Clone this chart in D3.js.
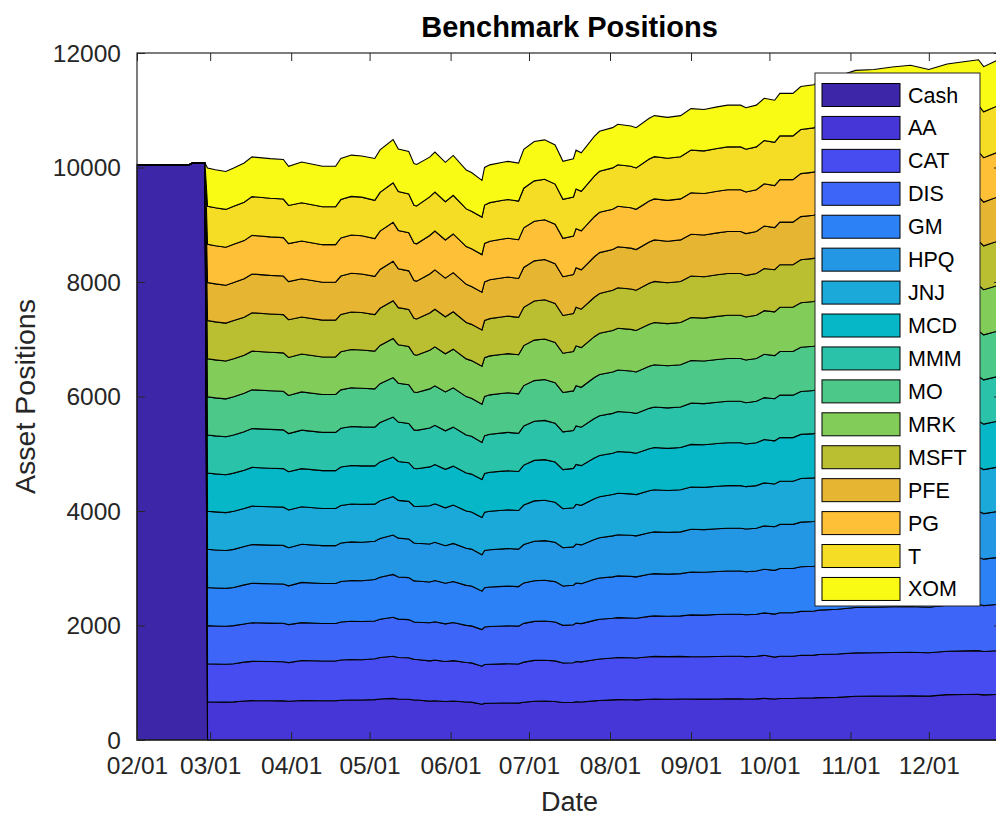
<!DOCTYPE html>
<html><head><meta charset="utf-8">
<script src="https://cdn.jsdelivr.net/npm/d3@7"></script>
<style>
body{margin:0;background:#fff}
svg{display:block}
text{font-family:"Liberation Sans",Arial,Helvetica,sans-serif}
</style>
</head><body>
<svg id="chart" width="996" height="817"></svg>
<script>
const seriesNames = ["Cash","AA","CAT","DIS","GM","HPQ","JNJ","MCD","MMM","MO","MRK","MSFT","PFE","PG","T","XOM"];
const seriesColors = ["#3E26A8","#4636D8","#464CF0","#3D66F9","#2C81F7","#2396E4","#1BA9DA","#06B7C8","#2AC2A9","#4CC988","#82CC5A","#BABF32","#E6B632","#FDC036","#F5DC25","#F9FB15"];

const cashDates = ["2006-02-01","2006-02-21","2006-02-22","2006-02-27"];
const cashValues = [10050,10050,10075,10075];

const stockDates = [
"2006-02-28","2006-03-03","2006-03-07","2006-03-10",
"2006-03-14","2006-03-17","2006-03-24","2006-03-29","2006-03-31",
"2006-04-05","2006-04-13","2006-04-18","2006-04-20","2006-04-24","2006-04-28",
"2006-05-03","2006-05-05","2006-05-10","2006-05-12","2006-05-16","2006-05-18","2006-05-19",
"2006-05-24","2006-05-26","2006-05-30","2006-06-02","2006-06-07","2006-06-09",
"2006-06-13","2006-06-14","2006-06-16","2006-06-21","2006-06-23","2006-06-27","2006-06-29",
"2006-07-03","2006-07-07","2006-07-11","2006-07-14","2006-07-18","2006-07-19","2006-07-21","2006-07-26","2006-07-28",
"2006-08-02","2006-08-04","2006-08-09","2006-08-11","2006-08-16","2006-08-18","2006-08-23","2006-08-28",
"2006-09-01","2006-09-06","2006-09-11","2006-09-15","2006-09-20","2006-09-22","2006-09-26","2006-09-29",
"2006-10-03","2006-10-05","2006-10-10","2006-10-13","2006-10-18","2006-10-20","2006-10-27",
"2006-11-03","2006-11-10","2006-11-17","2006-11-24","2006-12-01",
"2006-12-08","2006-12-15","2006-12-20","2006-12-22","2006-12-27","2006-12-29"];

const AA   = [666,664,662,666, 680,687,685,684,676, 691,686,686,695,699,698, 705,715,727,716,713,699,698, 679,685,673,681,664,661, 624,639,642,645,646,644,660, 677,679,673,654,657,667,664,683,689, 701,705,703,701,712,715,713,715, 715,714,717,719,719,716,719,727, 717,725,725,733,735,740,745, 765,766,769,771,766, 792,795,797,789,796,797];
const CAT  = [666,664,662,666, 680,687,685,684,676, 698,693,693,702,706,705, 715,725,737,726,723,709,708, 704,710,698,706,689,686, 664,679,682,685,686,684,700, 713,715,709,690,693,703,700,719,725, 731,735,733,731,742,745,743,745, 740,739,742,744,744,741,744,752, 730,738,738,746,748,753,758, 756,757,760,762,757, 759,762,764,756,763,764];
const DIS  = [666,664,662,666, 667,674,672,671,663, 661,656,656,665,669,668, 659,669,681,670,667,653,652, 664,670,658,666,649,646, 641,656,659,662,663,661,677, 682,684,678,659,662,672,669,688,694, 694,698,696,694,705,708,706,708, 730,729,732,734,734,731,734,742, 752,760,760,768,770,775,780, 794,795,798,800,795, 805,808,810,802,809,810];
const GM   = [666,664,662,666, 682,689,687,686,678, 703,698,698,707,711,710, 725,735,747,736,733,719,718, 714,720,708,716,699,696, 671,686,689,692,693,691,707, 711,713,707,688,691,701,698,717,723, 724,728,726,724,735,738,736,738, 750,749,752,754,754,751,754,762, 764,772,772,780,782,787,792, 803,804,807,809,804, 815,818,820,812,819,820];
const HPQ  = [666,664,662,666, 670,677,675,674,666, 667,662,662,671,675,674, 667,677,689,678,675,661,660, 663,669,657,665,648,645, 634,649,652,655,656,654,670, 690,692,686,667,670,680,677,696,702, 716,720,718,716,727,730,728,730, 745,744,747,749,749,746,749,757, 763,771,771,779,781,786,791, 796,797,800,802,797, 799,802,804,796,803,804];
const JNJ  = [666,664,662,666, 664,671,669,668,660, 653,648,648,657,661,660, 649,659,671,660,657,643,642, 667,673,661,669,652,649, 654,669,672,675,676,674,690, 704,706,700,681,684,694,691,710,716, 721,725,723,721,732,735,733,735, 739,738,741,743,743,740,743,751, 745,753,753,761,763,768,773, 772,773,776,778,773, 771,774,776,768,775,776];
const MCD  = [666,664,662,666, 670,677,675,674,666, 667,662,662,671,675,674, 668,678,690,679,676,662,661, 679,685,673,681,664,661, 662,677,680,683,684,682,698, 707,709,703,684,687,697,694,713,719, 723,727,725,723,734,737,735,737, 745,744,747,749,749,746,749,757, 755,763,763,771,773,778,783, 790,791,794,796,791, 797,800,802,794,801,802];
const MMM  = [666,664,662,666, 672,679,677,676,668, 673,668,668,677,681,680, 677,687,699,688,685,671,670, 679,685,673,681,664,661, 647,662,665,668,669,667,683, 683,685,679,660,663,673,670,689,695, 695,699,697,695,706,709,707,709, 720,719,722,724,724,721,724,732, 734,742,742,750,752,757,762, 770,771,774,776,771, 777,780,782,774,781,782];
const MO   = [666,664,662,666, 670,677,675,674,666, 667,662,662,671,675,674, 668,678,690,679,676,662,661, 684,690,678,686,669,666, 670,685,688,691,692,690,706, 711,713,707,688,691,701,698,717,723, 723,727,725,723,734,737,735,737, 745,744,747,749,749,746,749,757, 755,763,763,771,773,778,783, 786,787,790,792,787, 789,792,794,786,793,794];
const MRK  = [666,664,662,666, 667,674,672,671,663, 661,656,656,665,669,668, 659,669,681,670,667,653,652, 674,680,668,676,659,656, 662,677,680,683,684,682,698, 707,709,703,684,687,697,694,713,719, 725,729,727,725,736,739,737,739, 750,749,752,754,754,751,754,762, 764,772,772,780,782,787,792, 792,793,796,798,793, 791,794,796,788,795,796];
const MSFT = [666,664,662,666, 664,671,669,668,660, 648,643,643,652,656,655, 639,649,661,650,647,633,632, 651,657,645,653,636,633, 633,648,651,654,655,653,669, 683,685,679,660,663,673,670,689,695, 703,707,705,703,714,717,715,717, 725,724,727,729,729,726,729,737, 735,743,743,751,753,758,763, 766,767,770,772,767, 769,772,774,766,773,774];
const PFE  = [666,664,662,666, 670,677,675,674,666, 667,662,662,671,675,674, 668,678,690,679,676,662,661, 681,687,675,683,666,663, 660,675,678,681,682,680,696, 701,703,697,678,681,691,688,707,713, 711,715,713,711,722,725,723,725, 730,729,732,734,734,731,734,742, 736,744,744,752,754,759,764, 766,767,770,772,767, 769,772,774,766,773,774];
const PG   = [666,664,662,666, 667,674,672,671,663, 661,656,656,665,669,668, 659,669,681,670,667,653,652, 674,680,668,676,659,656, 657,672,675,678,679,677,693, 693,695,689,670,673,683,680,699,705, 703,707,705,703,714,717,715,717, 725,724,727,729,729,726,729,737, 735,743,743,751,753,758,763, 770,771,774,776,771, 777,780,782,774,781,782];
const T    = [666,664,662,666, 670,677,675,674,666, 667,662,662,671,675,674, 668,678,690,679,676,662,661, 674,680,668,676,659,656, 655,670,673,676,677,675,691, 704,706,700,681,684,694,691,710,716, 723,727,725,723,734,737,735,737, 745,744,747,749,749,746,749,757, 755,763,763,771,773,778,783, 794,795,798,800,795, 805,808,810,802,809,810];
const XOM  = [666,664,662,666, 687,694,692,691,683, 713,708,708,717,721,720, 732,742,754,743,740,726,725, 694,700,688,696,679,676, 642,657,660,663,664,662,678, 687,689,683,664,667,677,674,693,699, 703,707,705,703,714,717,715,717, 725,724,727,729,729,726,729,737, 735,743,743,751,753,758,763, 776,777,780,782,777, 792,795,797,789,796,797];

const xTickLabels = ["02/01","03/01","04/01","05/01","06/01","07/01","08/01","09/01","10/01","11/01","12/01"];
const yTickValues = [0,2000,4000,6000,8000,10000,12000];
const xStart = "2006-02-01", xEnd = "2006-12-29";

const stockSeries = {AA,CAT,DIS,GM,HPQ,JNJ,MCD,MMM,MO,MRK,MSFT,PFE,PG,T,XOM};
const stockNames = seriesNames.slice(1);
const parse = d3.utcParse("%Y-%m-%d");

// build table
const rows = [];
cashDates.forEach((d,i)=>{
  const r = {date: parse(d), Cash: cashValues[i]};
  stockNames.forEach(k => r[k] = 0);
  rows.push(r);
});
stockDates.forEach((d,i)=>{
  const r = {date: parse(d), Cash: 0};
  stockNames.forEach(k => r[k] = stockSeries[k][i]);
  rows.push(r);
});

const svg = d3.select("#chart");
const L = 137, R = 1002, TOP = 53, BOT = 740;
const x = d3.scaleUtc().domain([parse(xStart), parse(xEnd)]).range([L, R]);
const y = d3.scaleLinear().domain([0, 12000]).range([BOT, TOP]);

const layers = d3.stack().keys(seriesNames)(rows);
const area = d3.area().x(d => x(d.data.date)).y0(d => y(d[0])).y1(d => y(d[1]));

svg.append("g").selectAll("path").data(layers).join("path")
  .attr("d", area)
  .attr("fill", (d,i) => seriesColors[i])
  .attr("stroke", "#000")
  .attr("stroke-width", 1.1)
  .attr("stroke-linejoin", "miter");

const axisColor = "#262626";
const fontTick = "24.5px";
const xTickDates = xTickLabels.map(s => d3.utcParse("%m/%d/%Y")(s + "/2006"));
const fmt = d3.utcFormat("%m/%d");

const gx = svg.append("g").attr("transform", `translate(0,${BOT})`)
  .call(d3.axisBottom(x).tickValues(xTickDates).tickFormat(fmt).tickSizeInner(-8).tickSizeOuter(0).tickPadding(17));
const gxt = svg.append("g").attr("transform", `translate(0,${TOP})`)
  .call(d3.axisTop(x).tickValues(xTickDates).tickFormat("").tickSizeInner(-8).tickSizeOuter(0));
const gy = svg.append("g").attr("transform", `translate(${L},0)`)
  .call(d3.axisLeft(y).tickValues(yTickValues).tickFormat(d3.format("d")).tickSizeInner(-8).tickSizeOuter(0).tickPadding(16));
const gyr = svg.append("g").attr("transform", `translate(${R},0)`)
  .call(d3.axisRight(y).tickValues(yTickValues).tickFormat("").tickSizeInner(-8).tickSizeOuter(0));

[gx,gxt,gy,gyr].forEach(g => {
  g.select(".domain").remove();
  g.selectAll("line").attr("stroke", axisColor).attr("stroke-width", 1);
  g.selectAll("text").attr("fill", axisColor).style("font-size", fontTick)
   .style("font-family", '"Liberation Sans",Arial,Helvetica,sans-serif');
});
gy.selectAll("text").attr("dy", "0.34em");

svg.append("rect").attr("x", L).attr("y", TOP).attr("width", R - L).attr("height", BOT - TOP)
  .attr("fill", "none").attr("stroke", axisColor).attr("stroke-width", 1.2);

svg.append("text").attr("x", (L + R) / 2).attr("y", 37).attr("text-anchor", "middle")
  .style("font-size", "29px").style("font-weight", "bold").attr("fill", "#000").text("Benchmark Positions");
svg.append("text").attr("x", (L + R) / 2).attr("y", 811).attr("text-anchor", "middle")
  .style("font-size", "27px").attr("fill", axisColor).text("Date");
svg.append("text").attr("transform", `translate(35,${(TOP + BOT) / 2}) rotate(-90)`).attr("text-anchor", "middle")
  .style("font-size", "28.5px").attr("fill", axisColor).text("Asset Positions");

const lg = svg.append("g");
lg.append("rect").attr("x", 815).attr("y", 73).attr("width", 165).attr("height", 533)
  .attr("fill", "#fff").attr("stroke", axisColor).attr("stroke-width", 1);
seriesNames.forEach((name, i) => {
  const cy = 95 + i * 32.93;
  lg.append("rect").attr("x", 822).attr("y", cy - 11.5).attr("width", 78).attr("height", 23)
    .attr("fill", seriesColors[i]).attr("stroke", "#000").attr("stroke-width", 1);
  lg.append("text").attr("x", 908).attr("y", cy).attr("dy", "0.35em")
    .style("font-size", "21.5px").attr("fill", "#000").text(name);
});
</script>
</body></html>
